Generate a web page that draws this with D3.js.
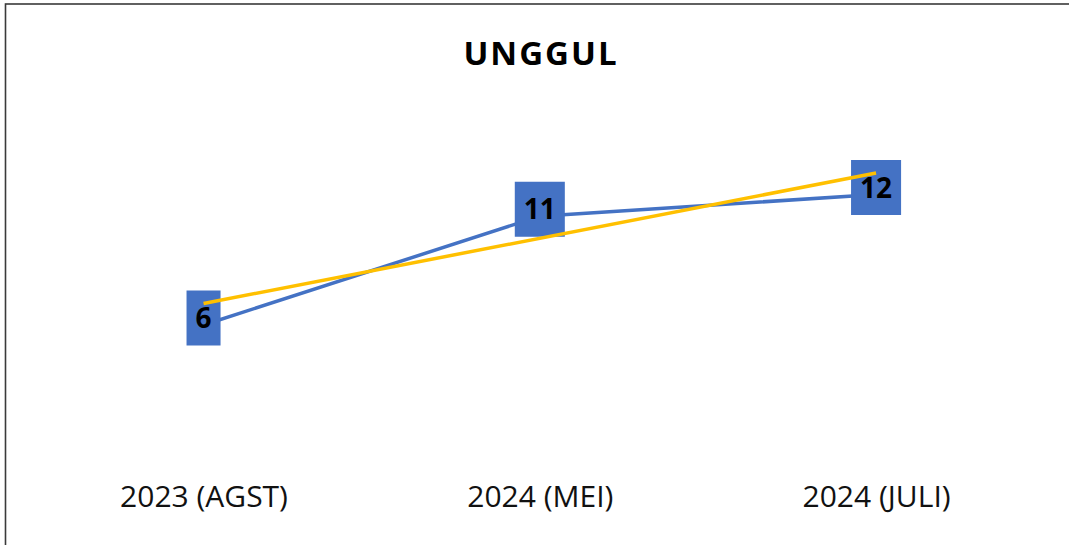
<!DOCTYPE html>
<html>
<head>
<meta charset="utf-8">
<script src="https://cdn.jsdelivr.net/npm/d3@7"></script>
<style>
  html, body { margin: 0; padding: 0; background: #fff; }
  svg { display: block; }
</style>
</head>
<body>
<svg id="chart" width="1069" height="545"></svg>
<script>
// ---- data ----
const title = "UNGGUL";
const categories = ["2023 (AGST)", "2024 (MEI)", "2024 (JULI)"];
const values = [6, 11, 12];
const yDomain = [0, 14];

// ---- layout / style ----
const W = 1069, H = 545;
const blue = "#4472C4", yellow = "#FFC000";
const svg = d3.select("#chart");

// chart border (top and left visible, rest cropped)
svg.append("rect")
  .attr("x", 5.5).attr("y", 4)
  .attr("width", W + 20).attr("height", H + 20)
  .attr("fill", "#fff")
  .attr("stroke", "#3a3a3a").attr("stroke-width", 1.6);

const x = d3.scalePoint().domain(categories).range([35.4, 1044.2]).padding(0.5);
const y = d3.scaleLinear().domain(yDomain).range([448.5, 144]);

// title
svg.append("text")
  .attr("x", 541).attr("y", 65)
  .attr("text-anchor", "middle")
  .attr("font-family", "'Open Sans', sans-serif")
  .attr("font-weight", "bold")
  .attr("font-size", 33)
  .attr("letter-spacing", 2)
  .attr("fill", "#000")
  .text(title);

// x axis labels
const xAxis = d3.axisBottom(x).tickSize(0).tickPadding(0);
const gx = svg.append("g").attr("transform", "translate(0,485)").call(xAxis);
gx.select(".domain").remove();
gx.selectAll("text")
  .attr("dy", 0).attr("y", 22)
  .attr("font-family", "'Open Sans', sans-serif")
  .attr("font-size", 30)
  .attr("fill", "#111");

const pts = categories.map((c, i) => ({ c, v: values[i], i: i + 1 }));

// series line
const lineShift = 7;
svg.append("path")
  .datum(pts)
  .attr("transform", `translate(0,${lineShift})`)
  .attr("fill", "none")
  .attr("stroke", blue)
  .attr("stroke-width", 3.5)
  .attr("d", d3.line().x(d => x(d.c)).y(d => y(d.v)));

// data label boxes
const lbl = svg.append("g");
const g = lbl.selectAll("g").data(pts).join("g")
  .attr("transform", d => `translate(${x(d.c)},${y(d.v)})`);
const rects = g.append("rect").attr("fill", blue);
const texts = g.append("text")
  .attr("text-anchor", "middle")
  .attr("dy", "0.36em")
  .attr("font-family", "'Open Sans', sans-serif")
  .attr("font-weight", "bold")
  .attr("font-size", 28)
  .attr("fill", "#000")
  .text(d => d.v);
texts.each(function() {
  const bb = this.getBBox();
  const padX = 9, hBox = 55;
  d3.select(this.parentNode).select("rect")
    .attr("x", -bb.width / 2 - padX).attr("y", -hBox / 2)
    .attr("width", bb.width + 2 * padX).attr("height", hBox);
});

// linear trendline (least squares on index)
const n = pts.length;
const mx = d3.mean(pts, d => d.i), my = d3.mean(pts, d => d.v);
const slope = d3.sum(pts, d => (d.i - mx) * (d.v - my)) / d3.sum(pts, d => (d.i - mx) ** 2);
const icpt = my - slope * mx;
const trend = [pts[0], pts[n - 1]].map(d => ({ c: d.c, v: icpt + slope * d.i }));
svg.append("path")
  .datum(trend)
  .attr("fill", "none")
  .attr("stroke", yellow)
  .attr("stroke-width", 3.5)
  .attr("d", d3.line().x(d => x(d.c)).y(d => y(d.v)));
</script>
</body>
</html>
